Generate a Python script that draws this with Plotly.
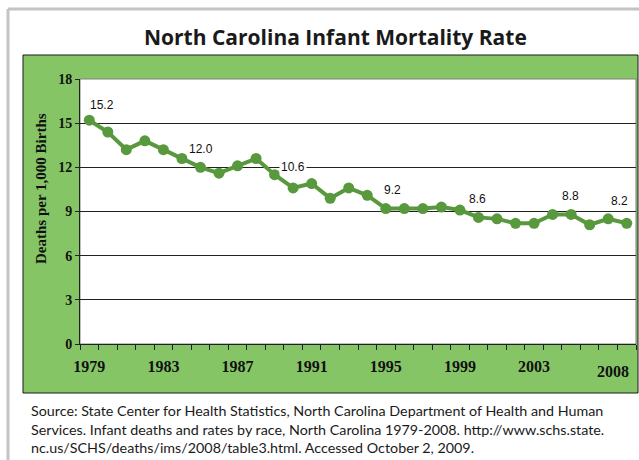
import plotly.graph_objects as go

# ---- data ----
years = list(range(1979, 2009))
rates = [15.2, 14.4, 13.2, 13.8, 13.2, 12.6, 12.0, 11.6, 12.1, 12.6,
         11.5, 10.6, 10.9, 9.9, 10.6, 10.1, 9.2, 9.2, 9.2, 9.3,
         9.1, 8.6, 8.5, 8.2, 8.2, 8.8, 8.8, 8.1, 8.5, 8.2]
label_years = [1979, 1985, 1990, 1995, 2000, 2005, 2008]
tick_years = [1979, 1983, 1987, 1991, 1995, 1999, 2003]
last_tick_year = 2008
y_ticks = [0, 3, 6, 9, 12, 15, 18]

title = "North Carolina Infant Mortality Rate"
y_title = "Deaths per 1,000 Births"
source = ("Source: State Center for Health Statistics, North Carolina Department of Health and Human<br>"
          "Services. Infant deaths and rates by race, North Carolina 1979-2008. http://www.schs.state.<br>"
          "nc.us/SCHS/deaths/ims/2008/table3.html. Accessed October 2, 2009.")

# ---- style ----
W, H = 639, 460
ML, MR, MT, MB = 80, 3, 79, 116
PANEL = "#86C566"
LINE = "#58993D"
SERIF = "Liberation Serif"
label_offsets = {1979: (13, 15), 1985: (1, 18), 1990: (0, 21), 1995: (7, 19),
                 2000: (-1, 18), 2005: (-1, 18), 2008: (-7, 22)}

PW, PH = W - ML - MR, H - MT - MB


def px(xp):
    return (xp - ML) / PW


def py(yp):
    return (H - MB - yp) / PH


fig = go.Figure()
fig.add_trace(go.Scatter(
    x=years, y=rates, mode="lines+markers",
    line=dict(color=LINE, width=4),
    marker=dict(size=11, color=LINE),
    showlegend=False, hoverinfo="x+y",
))

shapes = [
    # grey outer frame
    dict(type="line", xref="paper", yref="paper", x0=px(8), x1=px(8), y0=py(9), y1=py(462),
         line=dict(color="#C4C4C4", width=3), layer="below"),
    dict(type="line", xref="paper", yref="paper", x0=px(8), x1=px(641), y0=py(9), y1=py(9),
         line=dict(color="#C4C4C4", width=3), layer="below"),
    # green panel
    dict(type="rect", xref="paper", yref="paper", x0=px(23), x1=px(638), y0=py(55), y1=py(393),
         fillcolor=PANEL, line=dict(color="#1a1a1a", width=1), layer="below"),
    # white plot area
    dict(type="rect", xref="paper", yref="paper", x0=0, x1=1, y0=0, y1=1,
         fillcolor="white", line=dict(color="#808080", width=1), layer="below"),
]

annotations = []
for yr in label_years:
    v = rates[years.index(yr)]
    dx, dy = label_offsets[yr]
    annotations.append(dict(
        x=yr, y=v, xref="x", yref="y", text=f"{v:.1f}", showarrow=False,
        xshift=dx, yshift=dy, bgcolor="white", borderpad=1,
        font=dict(family="Liberation Sans", size=12, color="#111"),
    ))

# last year tick label (sits a bit left and lower than the others)
annotations.append(dict(
    x=last_tick_year, y=0, xref="x", yref="y", text=f"<b>{last_tick_year}</b>", showarrow=False,
    xshift=-14, yshift=-27, yanchor="middle",
    font=dict(family=SERIF, size=16, color="#111"),
))

# y-axis title (placed a little above the plot centre, as in the original)
annotations.append(dict(
    x=px(41), y=py(189), xref="paper", yref="paper", text=f"<b>{y_title}</b>",
    showarrow=False, textangle=-90, xanchor="center", yanchor="middle",
    font=dict(family=SERIF, size=15, color="#111"),
))

annotations.append(dict(
    x=px(335), y=py(37), xref="paper", yref="paper", text=f"<b>{title}</b>",
    showarrow=False, xanchor="center", yanchor="middle",
    font=dict(family="Open Sans", size=21, color="#1a1a1a"),
))
annotations.append(dict(
    x=px(29), y=py(400), xref="paper", yref="paper", text=source,
    showarrow=False, xanchor="left", yanchor="top", align="left",
    font=dict(family="Lato", size=14.3, color="#1a1a1a"),
))

fig.update_layout(
    width=W, height=H,
    margin=dict(l=ML, r=MR, t=MT, b=MB, pad=0),
    paper_bgcolor="white", plot_bgcolor="rgba(0,0,0,0)",
    shapes=shapes, annotations=annotations,
    showlegend=False,
)

fig.update_xaxes(
    range=[1978.5, 2008.5], tickvals=tick_years, ticktext=[str(t) for t in tick_years],
    ticks="", showgrid=False, zeroline=False,
    showline=True, linecolor="#222", linewidth=1,
    tickfont=dict(family=SERIF, size=16, color="#111", weight="bold"),
    ticklabelstandoff=8,
    minor=dict(ticks="outside", ticklen=5, tickcolor="#222", tick0=1978.5, dtick=1, showgrid=False),
    fixedrange=True,
)
fig.update_yaxes(
    range=[0, 18], tickvals=y_ticks, ticks="outside", ticklen=4, tickcolor="#222",
    showgrid=True, gridcolor="#222", gridwidth=1, zeroline=False,
    showline=True, linecolor="#222", linewidth=1,
    tickfont=dict(family=SERIF, size=14, color="#111", weight="bold"),
    fixedrange=True,
)

fig.write_html("out.html", config={"displayModeBar": False},
               post_script="document.body.style.margin='0';")
